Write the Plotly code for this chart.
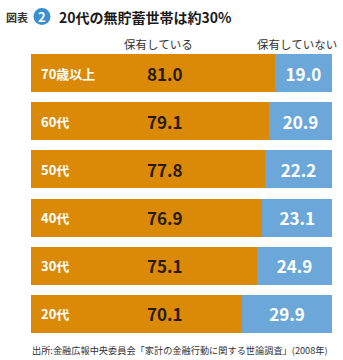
import plotly.graph_objects as go

categories = ["20代", "30代", "40代", "50代", "60代", "70歳以上"]
have = [70.1, 75.1, 76.9, 77.8, 79.1, 81.0]
have_not = [29.9, 24.9, 23.1, 22.2, 20.9, 19.0]
header_have = "保有している"
header_not = "保有していない"
title_text = "20代の無貯蓄世帯は約30%"
source_text = "出所:金融広報中央委員会「家計の金融行動に関する世論調査」(2008年)"

W, H = 343, 360
L, R, T, B = 31, 11, 54, 27
PW, PH = W - L - R, H - T - B

def px(x):
    return (x - L) / PW

def py(y):
    return 1 - (y - T) / PH

ORANGE = "#DA8A07"
BLUE = "#6CA7DA"
JP = "Noto Sans CJK JP"

fig = go.Figure()
fig.add_trace(go.Bar(
    y=categories, x=have, orientation="h", marker=dict(color=ORANGE, line=dict(width=0)),
    width=0.79, hoverinfo="skip", showlegend=False))
fig.add_trace(go.Bar(
    y=categories, x=have_not, orientation="h", marker=dict(color=BLUE, line=dict(width=0)),
    width=0.79, hoverinfo="skip", showlegend=False,
    text=[f"{v:.1f}" for v in have_not], textposition="inside", insidetextanchor="middle",
    textfont=dict(family=JP, size=17, color="white", weight=700)))

ann = []
for c, v in zip(categories, have):
    ann.append(dict(x=0, y=c, xref="x", yref="y", text=c, showarrow=False,
                    xanchor="left", xshift=8, font=dict(family=JP, size=13, color="white", weight=700)))
    ann.append(dict(x=44.5, y=c, xref="x", yref="y", text=f"{v:.1f}", showarrow=False,
                    xanchor="center", font=dict(family=JP, size=17, color="#2a1a0c", weight=700)))

ann.append(dict(x=px(158), y=py(44), xref="paper", yref="paper", text=header_have, showarrow=False,
                xanchor="center", yanchor="middle", font=dict(family=JP, size=11.5, color="#333333")))
ann.append(dict(x=px(297), y=py(44), xref="paper", yref="paper", text=header_not, showarrow=False,
                xanchor="center", yanchor="middle", font=dict(family=JP, size=11.5, color="#333333")))
ann.append(dict(x=px(4), y=py(17), xref="paper", yref="paper", text="図表", showarrow=False,
                xanchor="left", yanchor="middle", font=dict(family=JP, size=11, color="#333333", weight=700)))
ann.append(dict(x=px(42), y=py(16.5), xref="paper", yref="paper", text="2", showarrow=False,
                xanchor="center", yanchor="middle", font=dict(family=JP, size=13, color="white", weight=700)))
ann.append(dict(x=px(57), y=py(16.5), xref="paper", yref="paper", text=title_text, showarrow=False,
                xanchor="left", yanchor="middle", font=dict(family=JP, size=14, color="#1a1a1a", weight=700)))
ann.append(dict(x=px(30), y=py(350), xref="paper", yref="paper", text=source_text, showarrow=False,
                xanchor="left", yanchor="middle", font=dict(family=JP, size=9.2, color="#333333")))

shapes = [dict(type="circle", xref="paper", yref="paper", xsizemode="pixel", ysizemode="pixel",
               xanchor=px(42), yanchor=py(16.5), x0=-8.5, x1=8.5, y0=-8.5, y1=8.5,
               fillcolor="#3A8FD1", line=dict(width=0))]

fig.update_layout(
    width=W, height=H, margin=dict(l=L, r=R, t=T, b=B),
    barmode="stack", paper_bgcolor="white", plot_bgcolor="white",
    xaxis=dict(range=[0, 100], visible=False, fixedrange=True),
    yaxis=dict(type="category", categoryorder="array", categoryarray=categories,
               range=[-0.395, 5.395], visible=False, fixedrange=True),
    annotations=ann, shapes=shapes, uniformtext=dict(minsize=8, mode="show"),
)
fig.write_html("out.html", config={"displayModeBar": False})
